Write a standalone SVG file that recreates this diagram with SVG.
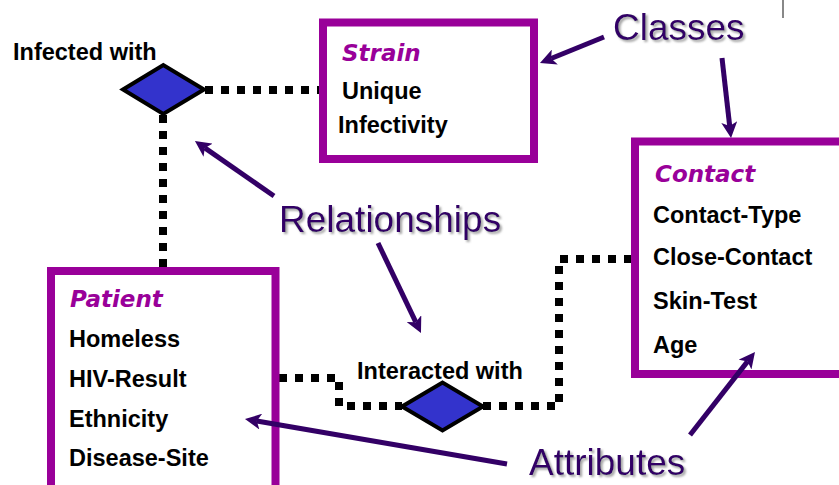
<svg xmlns="http://www.w3.org/2000/svg" width="839" height="485" viewBox="0 0 839 485">
  <style>
    .cls { fill: #ffffff; stroke: #990099; stroke-width: 8; }
    .title { font-family: "DejaVu Sans", "Liberation Sans", sans-serif; font-weight: bold; font-style: italic; font-size: 23px; fill: #990099; }
    .attr { font-family: "Liberation Sans", Arial, sans-serif; font-weight: bold; font-size: 23.5px; fill: #000000; }
    .rel { fill: #3333cc; stroke: #000000; stroke-width: 4; stroke-linejoin: miter; }
    .dots { fill: none; stroke: #000000; stroke-width: 8; stroke-dasharray: 8 8; }
    .note { font-family: "Liberation Sans", Arial, sans-serif; font-size: 37px; fill: #330066; filter: url(#shadow); }
    .pointer { stroke: #330066; stroke-width: 5; fill: none; marker-end: url(#head); }
  </style>
  <defs>
    <filter id="shadow" x="-10%" y="-20%" width="130%" height="150%">
      <feDropShadow dx="2" dy="2" stdDeviation="0.8" flood-color="#9a9a9a" flood-opacity="0.9"/>
    </filter>
    <marker id="head" viewBox="0 0 16 16" refX="4" refY="8" markerWidth="16" markerHeight="16" markerUnits="userSpaceOnUse" orient="auto">
      <path d="M0,0 L16,8 L0,16 L4,8 Z" fill="#330066"/>
    </marker>
  </defs>

  <rect x="0" y="0" width="839" height="485" fill="#ffffff"/>
  <line x1="783" y1="0" x2="783" y2="18" stroke="#888888" stroke-width="2"/>

  <!-- dotted relationship links -->
  <g id="connectors">
    <path class="dots" d="M205,90 H319"/>
    <path class="dots" d="M163,115 V267"/>
    <path class="dots" d="M279,378 H339 V406 H402"/>
    <path class="dots" d="M483,406 H559 V259 H631"/>
  </g>

  <g id="strain">
    <rect class="cls" x="323" y="22.5" width="211" height="136.5"/>
    <text class="title" x="342" y="61">Strain</text>
    <text class="attr" x="342" y="99">Unique</text>
    <text class="attr" x="338" y="133">Infectivity</text>
  </g>

  <g id="contact">
    <rect class="cls" x="635" y="141.5" width="230" height="232.5"/>
    <text class="title" x="655" y="182">Contact</text>
    <text class="attr" x="653" y="223">Contact-Type</text>
    <text class="attr" x="653" y="265">Close-Contact</text>
    <text class="attr" x="653" y="309">Skin-Test</text>
    <text class="attr" x="653" y="353">Age</text>
  </g>

  <g id="patient">
    <rect class="cls" x="51" y="271" width="224.5" height="230"/>
    <text class="title" x="70" y="307">Patient</text>
    <text class="attr" x="69" y="347">Homeless</text>
    <text class="attr" x="69" y="387">HIV-Result</text>
    <text class="attr" x="69" y="427">Ethnicity</text>
    <text class="attr" x="69" y="466">Disease-Site</text>
  </g>

  <g id="infected-with">
    <polygon class="rel" points="123,89.5 163.3,65 204,89.5 163.3,114"/>
    <text class="attr" x="13" y="60">Infected with</text>
  </g>

  <g id="interacted-with">
    <polygon class="rel" points="402,406.5 442.5,382.5 483,406.5 442.5,430.5"/>
    <text class="attr" x="357" y="379">Interacted with</text>
  </g>

  <!-- callout labels and their pointers -->
  <g id="classes-label">
    <text class="note" x="613" y="40">Classes</text>
    <line class="pointer" x1="604" y1="37" x2="551.1" y2="58.5"/>
    <line class="pointer" x1="722" y1="58" x2="729.7" y2="126.1"/>
  </g>

  <g id="relationships-label">
    <text class="note" x="279" y="232">Relationships</text>
    <line class="pointer" x1="274" y1="196" x2="204.8" y2="147.9"/>
    <line class="pointer" x1="378" y1="243" x2="415.8" y2="322.2"/>
  </g>

  <g id="attributes-label">
    <text class="note" x="529" y="475">Attributes</text>
    <line class="pointer" x1="507" y1="464" x2="256.8" y2="421"/>
    <line class="pointer" x1="690" y1="435" x2="747.6" y2="361.4"/>
  </g>
</svg>
